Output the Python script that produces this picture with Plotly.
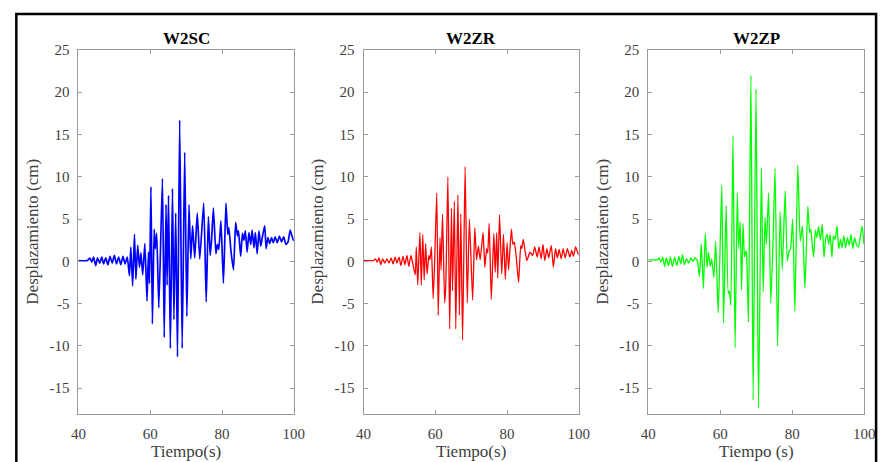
import plotly.graph_objects as go

# ---- data: displacement histories (time in s, displacement in cm) ----
t_w2sc = [40, 42.5, 43.2, 43.7, 44.2, 44.8, 45.3, 45.9, 46.5, 47.0, 47.6, 48.2, 48.8, 49.4, 50.0, 50.6,
          51.2, 51.8, 52.4, 53.0, 53.6,
          54.2, 54.6, 55.1, 55.6, 56.0, 56.5, 57.0, 57.4, 57.9, 58.5, 59.1, 59.5, 59.8, 60.2, 60.6,
          61.1, 61.4, 61.8, 62.4, 63.4, 63.9, 64.4, 64.7, 65.1, 65.6, 66.2, 66.6, 67.1, 67.6, 68.2,
          68.9, 69.6, 70.2, 70.8, 71.3, 71.8, 72.4, 73.1, 73.8, 74.9, 75.6, 76.2, 76.7, 77.1, 77.6,
          78.3, 78.7, 79.1, 79.7, 80.4, 81.1, 81.6, 81.9, 82.5, 83.2, 83.8, 84.3, 84.6, 85.2, 85.7,
          86.1, 86.5, 87.0, 87.5, 88.0, 88.4, 88.9, 89.3, 89.8, 90.3, 90.8, 91.3, 91.9, 92.3, 92.8,
          93.3, 93.8, 94.3, 94.8, 95.4, 96.0, 96.6, 97.2, 97.8, 98.4, 99.0, 99.5, 100]
v_w2sc = [0.1, 0.1, 0.4, -0.1, 0.5, -0.5, 0.4, -0.2, 0.5, -0.3, 0.4, -0.4, 0.6, -0.2, 0.7, -0.3,
          0.5, -0.4, 0.6, -0.3, 0.5,
          -1.7, 1.7, -2.9, 3.2, -2.1, 1.9, -0.7, 1.0, -1.6, 2.1, -4.7, 1.1, -2.6, 8.8, -7.4,
          3.8, 1.5, 3.3, -5.5, 9.8, -9.0, 6.7, -2.8, 7.8, -10.3, 8.6, -6.9, 5.7, -11.3, 16.7,
          -10.3, 12.9, -6.5, 6.7, 0.3, 4.2, 0.4, 5.7, 0.3, 6.9, -4.8, 5.3, 0.7, 2.6, 6.3,
          0.9, 2.0, 1.4, 4.8, -2.6, 6.9, 3.2, 4.0, 1.2, -1.0, 4.6, 3.0, 3.6, 0.6, 3.3,
          2.5, 3.6, 1.1, 3.4, 2.0, 3.7, 1.6, 3.4, 0.9, 3.6, 1.8, 3.0, 4.2, 1.5, 2.8,
          2.1, 2.8, 2.2, 2.9, 2.2, 3.0, 2.3, 2.9, 2.0, 2.3, 3.7, 3.0, 2.4]

t_w2zr = [40, 42.8, 43.3, 43.8, 44.3, 44.8, 45.3, 45.9, 46.5, 47.1, 47.7, 48.2, 48.8, 49.3, 49.9, 50.4,
          51.0, 51.5, 52.1, 52.6, 53.2, 53.7,
          54.4, 54.7, 55.1, 55.7, 56.1, 56.5, 56.9, 57.3, 57.7, 58.2, 58.5, 58.9, 59.4, 59.8, 60.4,
          60.8, 61.3, 61.6, 62.0, 62.6, 62.9, 63.5, 64.0, 64.5, 64.8, 65.3, 65.7, 66.3, 66.7, 67.1,
          67.6, 68.3, 68.9, 69.5, 70.4, 71.0, 71.5, 72.0, 72.5, 73.3, 73.8, 74.3, 74.6, 75.0, 75.6,
          76.3, 76.7, 77.1, 77.4, 77.9, 78.5, 79.0, 79.5, 80.0, 80.4, 81.2, 81.6, 82.0, 82.6, 83.2,
          83.8, 84.1, 84.5, 85.5, 86.4, 87.1, 87.7, 88.4, 88.9, 89.5, 90.0, 90.5, 91.1, 91.6, 92.3,
          92.9, 93.5, 94.0, 94.5, 95.1, 95.6, 96.2, 96.8, 97.5, 98.0, 98.5, 99.1, 99.8, 100]
v_w2zr = [0.1, 0.1, 0.3, -0.1, 0.4, -0.4, 0.3, -0.2, 0.3, -0.2, 0.4, -0.3, 0.5, -0.2, 0.5, -0.5,
          0.6, -0.4, 0.7, -0.6, 0.7, -0.2,
          -1.6, 1.7, -2.8, 3.4, -2.8, 3.2, -2.2, 2.1, -1.5, 0.7, 0.2, 1.7, -4.4, -0.2, 8.1,
          -6.4, 2.8, -1.0, 5.6, -4.9, -3.0, 10.0, -8.0, 6.3, -3.5, 7.1, -8.0, 7.9, -6.4, 5.6,
          -9.3, 11.2, -4.9, 5.0, -4.6, 4.0, 0.2, 1.8, 0.2, 3.4, -0.7, 1.5, 1.0, 4.5, -4.5,
          3.3, -1.3, 3.4, -2.0, 5.5, -1.5, 3.2, -2.1, 2.2, -1.0, 3.8, 2.0, 2.3, 0.3, -2.5,
          1.9, 1.5, 2.6, 0.1, 1.1, 0.7, 1.7, 0.5, 1.7, 0.3, 2.0, 0.1, 1.5, 0.4, 1.9,
          -0.7, 1.5, 0.4, 1.4, 0.3, 1.5, 0.4, 1.5, 0.5, 1.3, 0.6, 1.7, 0.9, 0.8]

t_w2zp = [40, 42.5, 43.0, 43.5, 44.0, 44.5, 45.0, 45.6, 46.1, 46.7, 47.3, 47.9, 48.5, 49.0, 49.5, 50.0,
          50.6, 51.2, 51.8, 52.4, 53.0, 53.6,
          54.2, 54.7, 55.3, 55.8, 56.3, 56.7, 57.2, 57.6, 58.2, 58.7, 59.4, 59.9, 60.4, 60.9, 61.6,
          62.2, 62.5, 62.9, 63.5, 64.1, 64.7, 65.1, 65.5, 65.9, 66.3, 66.7, 67.1, 67.3, 67.8, 68.5,
          69.1, 69.9, 70.6, 71.4, 71.9, 72.4, 72.8, 73.4, 74.0, 74.6, 75.2, 75.9, 76.6, 77.2, 78.0,
          78.6, 79.1, 79.5, 80.1, 80.7, 81.5, 82.2, 82.8, 83.5, 84.3, 84.8, 85.1, 85.9, 86.4, 86.8,
          87.3, 87.8, 88.3, 88.8, 89.3, 89.7, 90.1, 90.5, 91.0, 91.4, 91.9, 92.4, 92.9, 93.4, 93.8,
          94.3, 94.8, 95.3, 95.8, 96.3, 96.8, 97.3, 97.8, 98.4, 98.9, 99.4, 99.9, 100]
v_w2zp = [0.2, 0.2, 0.4, -0.1, 0.5, -0.6, 0.4, -0.5, 0.5, -0.6, 0.5, -0.5, 0.6, -0.3, 0.8, -0.4,
          0.3, -0.2, 0.4, 0.0, 0.4, 0.1,
          -1.8, 2.1, -3.2, 3.3, -0.7, 1.1, -0.6, 0.3, -1.9, 2.4, -6.1, 1.1, 9.0, -7.3, 6.6,
          -3.8, -3.5, -5.2, 14.8, -10.2, 8.1, 1.5, 4.7, -3.4, 4.5, 0.5, 1.2, 0.8, -7.2, 22.0,
          -16.4, 20.4, -17.4, 11.1, -3.6, 5.2, 2.0, 8.1, -4.9, 1.8, 11.0, -10.0, 5.9, -1.0, 8.3,
          0.1, 1.2, 1.5, 5.0, -5.9, 11.4, 2.4, 4.2, -3.2, 6.5, 3.4, 3.8, 0.5, 3.7, 2.8,
          4.1, 2.5, 4.4, 0.5, 2.8, 3.2, 2.0, 3.2, 0.5, 3.0, 2.6, 4.2, 1.5, 2.6, 1.6,
          3.0, 1.6, 2.8, 1.9, 3.2, 1.5, 2.8, 2.0, 1.7, 3.0, 4.2, 2.1, 2.0]

titles = ["W2SC", "W2ZR", "W2ZP"]
x_titles = ["Tiempo(s)", "Tiempo(s)", "Tiempo (s)"]
y_title = "Desplazamiento (cm)"
colors = ["#0000ff", "#ff0000", "#00ff00"]
x_ticks = [40, 60, 80, 100]
y_ticks = [-15, -10, -5, 0, 5, 10, 15, 20, 25]
y_ticktext = ["-15", "-10", "-5", "0", "5", "10", "15", "20", "25"]

series = [(t_w2sc, v_w2sc), (t_w2zr, v_w2zr), (t_w2zp, v_w2zp)]

W, H = 891, 462
x_domains = [(72, 292), (363.3, 583.3), (654.3, 875)]
y_dom = [1 - 412.7 / H, 1 - 42.7 / H]
widths = [1.7, 1.3, 1.3]

FONT = "Liberation Serif, Times New Roman, serif"
AX_GRAY = "#9a9a9a"

fig = go.Figure()
layout = dict(
    width=W, height=H, autosize=False,
    margin=dict(l=0, r=0, t=0, b=0),
    paper_bgcolor="white", plot_bgcolor="white",
    showlegend=False,
    font=dict(family=FONT, color="#404040"),
    annotations=[], shapes=[],
)

for i, ((t, v), col) in enumerate(zip(series, colors)):
    n = "" if i == 0 else str(i + 1)
    fig.add_trace(go.Scatter(x=t, y=v, mode="lines",
                             line=dict(color=col, width=widths[i], shape="spline", smoothing=0.5),
                             xaxis="x" + n, yaxis="y" + n))
    x0, x1 = x_domains[i]
    layout["xaxis" + n] = dict(
        domain=[x0 / W, x1 / W], range=[40, 100], anchor="y" + n,
        tickvals=x_ticks, ticks="inside", ticklen=4, tickcolor=AX_GRAY,
        showline=True, linecolor=AX_GRAY, linewidth=1, mirror="ticks",
        showgrid=False, zeroline=False,
        tickfont=dict(size=15, family=FONT, color="#404040"),
        ticklabelstandoff=6,
        title=dict(text=x_titles[i], font=dict(size=17, family=FONT, color="#404040"), standoff=4),
    )
    layout["yaxis" + n] = dict(
        domain=y_dom, range=[-18, 25], anchor="x" + n,
        tickvals=y_ticks, ticktext=y_ticktext, ticks="inside", ticklen=4, tickcolor=AX_GRAY,
        showline=True, linecolor=AX_GRAY, linewidth=1, mirror="ticks",
        showgrid=False, zeroline=False,
        tickfont=dict(size=15, family=FONT, color="#404040"),
        ticklabelstandoff=5,
        title=dict(text=y_title, font=dict(size=17, family=FONT, color="#404040"), standoff=6),
    )
    layout["annotations"].append(dict(
        text="<b>" + titles[i] + "</b>", xref="paper", yref="paper",
        x=(x0 + x1) / 2 / W, y=1 - 31.5 / H, xanchor="center", yanchor="middle",
        showarrow=False, font=dict(size=17, family=FONT, color="black"),
    ))

# outer frame around the whole figure
layout["shapes"].append(dict(
    type="rect", xref="paper", yref="paper",
    x0=8.5 / W, x1=887 / W, y0=-0.02, y1=1 - 6 / H,
    line=dict(color="black", width=2.5), fillcolor="rgba(0,0,0,0)",
))

fig.update_layout(**layout)
fig.write_html("out.html", config={"responsive": False})
